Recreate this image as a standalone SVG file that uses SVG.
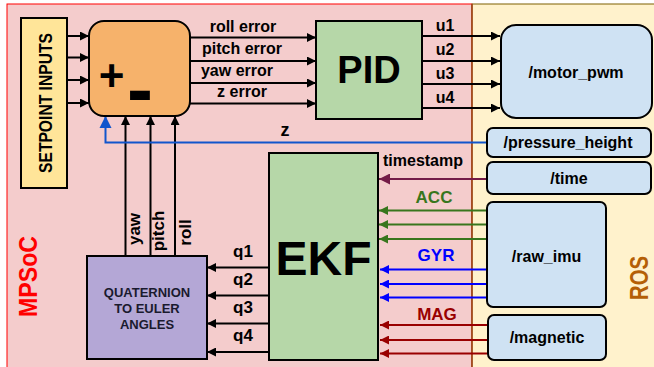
<svg xmlns="http://www.w3.org/2000/svg" width="654" height="367" viewBox="0 0 654 367">
<style>
text{font-family:"Liberation Sans",Arial,sans-serif;font-weight:bold;fill:#000}
.box{stroke:#000;stroke-width:2}
.ln{fill:none;stroke-width:2}
.k{stroke:#000}
.lbl{font-size:16px;text-anchor:middle}
.node{font-size:16px;text-anchor:middle}
</style>
<defs>
<marker id="ak" viewBox="0 0 10 10" refX="10" refY="5" markerWidth="10" markerHeight="9" markerUnits="userSpaceOnUse" orient="auto"><path d="M0,0L10,5L0,10z" fill="#000"/></marker>
<marker id="az" viewBox="0 0 10 10" refX="10" refY="5" markerWidth="12" markerHeight="13" markerUnits="userSpaceOnUse" orient="auto"><path d="M0,0L10,5L0,10z" fill="#1155cc"/></marker>
<marker id="ag" viewBox="0 0 10 10" refX="10" refY="5" markerWidth="11" markerHeight="9" markerUnits="userSpaceOnUse" orient="auto"><path d="M0,0L10,5L0,10z" fill="#38761d"/></marker>
<marker id="ab" viewBox="0 0 10 10" refX="10" refY="5" markerWidth="11" markerHeight="9" markerUnits="userSpaceOnUse" orient="auto"><path d="M0,0L10,5L0,10z" fill="#0000ff"/></marker>
<marker id="ar" viewBox="0 0 10 10" refX="10" refY="5" markerWidth="11" markerHeight="9" markerUnits="userSpaceOnUse" orient="auto"><path d="M0,0L10,5L0,10z" fill="#990000"/></marker>
<marker id="ap" viewBox="0 0 10 10" refX="10" refY="5" markerWidth="13" markerHeight="11" markerUnits="userSpaceOnUse" orient="auto"><path d="M0,0L10,5L0,10z" fill="#741b47"/></marker>
</defs>
<rect width="654" height="367" fill="#fff"/>
<g id="region-mpsoc">
<rect x="7" y="4" width="465" height="370" fill="#f4cccc" stroke="#ff0000" stroke-width="1"/>
<text transform="translate(36.5,276.5) rotate(-90)" text-anchor="middle" font-size="25.5" textLength="81" lengthAdjust="spacingAndGlyphs" style="fill:#ff0000">MPSoC</text>
</g>
<g id="region-ros">
<rect x="472" y="4" width="190" height="370" fill="#fff2cc" stroke="#7f6000" stroke-width="1"/>
<line x1="472" y1="4" x2="472" y2="367" stroke="#a0441c" stroke-width="1.5"/>
<text transform="translate(647.5,278) rotate(-90)" text-anchor="middle" font-size="26" textLength="44" lengthAdjust="spacingAndGlyphs" style="fill:#b45f06">ROS</text>
</g>
<g id="connectors">
<g class="ln k" marker-end="url(#ak)">
<line x1="67" y1="36" x2="89" y2="36"/>
<line x1="67" y1="57.5" x2="89" y2="57.5"/>
<line x1="67" y1="80" x2="89" y2="80"/>
<line x1="67" y1="103" x2="89" y2="103"/>
<line x1="190" y1="37.5" x2="316" y2="37.5"/>
<line x1="190" y1="61" x2="316" y2="61"/>
<line x1="190" y1="83" x2="316" y2="83"/>
<line x1="190" y1="103.5" x2="316" y2="103.5"/>
<line x1="422" y1="36" x2="500" y2="36"/>
<line x1="422" y1="61" x2="500" y2="61"/>
<line x1="422" y1="84" x2="500" y2="84"/>
<line x1="422" y1="108" x2="500" y2="108"/>
<line x1="125.5" y1="256" x2="125.5" y2="116"/>
<line x1="150.5" y1="256" x2="150.5" y2="116"/>
<line x1="175" y1="256" x2="175" y2="116"/>
<line x1="269" y1="267.5" x2="207" y2="267.5"/>
<line x1="269" y1="295.5" x2="207" y2="295.5"/>
<line x1="269" y1="323.5" x2="207" y2="323.5"/>
<line x1="269" y1="352" x2="207" y2="352"/>
</g>
<path class="ln" d="M487,142.5H105.5V116" stroke="#1155cc" stroke-width="3" marker-end="url(#az)"/>
<line class="ln" x1="487" y1="179" x2="379" y2="179" stroke="#741b47" stroke-width="3" marker-end="url(#ap)"/>
<g class="ln" stroke="#38761d" marker-end="url(#ag)">
<line x1="487" y1="210.5" x2="379" y2="210.5"/>
<line x1="487" y1="224.5" x2="379" y2="224.5"/>
<line x1="487" y1="239" x2="379" y2="239"/>
</g>
<g class="ln" stroke="#0000ff" marker-end="url(#ab)">
<line x1="487" y1="269.5" x2="380" y2="269.5"/>
<line x1="487" y1="284" x2="380" y2="284"/>
<line x1="487" y1="297.5" x2="380" y2="297.5"/>
</g>
<g class="ln" stroke="#990000" marker-end="url(#ar)">
<line x1="487" y1="325" x2="380" y2="325"/>
<line x1="487" y1="340" x2="380" y2="340"/>
<line x1="487" y1="353.5" x2="380" y2="353.5"/>
</g>
<text class="lbl" x="243" y="32">roll error</text>
<text class="lbl" x="242" y="54">pitch error</text>
<text class="lbl" x="237" y="76">yaw error</text>
<text class="lbl" x="242" y="97">z error</text>
<text class="lbl" x="445" y="31" font-size="17">u1</text>
<text class="lbl" x="445" y="55" font-size="17">u2</text>
<text class="lbl" x="445" y="79" font-size="17">u3</text>
<text class="lbl" x="445" y="103" font-size="17">u4</text>
<text class="lbl" x="285" y="136" style="font-size:18px">z</text>
<text class="lbl" x="243" y="257" style="font-size:17px">q1</text>
<text class="lbl" x="243" y="285" style="font-size:17px">q2</text>
<text class="lbl" x="243" y="313" style="font-size:17px">q3</text>
<text class="lbl" x="243" y="341" style="font-size:17px">q4</text>
<text class="lbl" transform="translate(140,229) rotate(-90)" style="font-size:17px">yaw</text>
<text class="lbl" transform="translate(164,231) rotate(-90)" style="font-size:17px">pitch</text>
<text class="lbl" transform="translate(191,232.5) rotate(-90)" style="font-size:17px">roll</text>
<text class="lbl" x="423" y="166">timestamp</text>
<text class="lbl" x="434" y="203" style="font-size:17px;fill:#38761d">ACC</text>
<text class="lbl" x="436" y="261" style="font-size:17px;fill:#0000ff">GYR</text>
<text class="lbl" x="437" y="320" style="font-size:17px;fill:#990000">MAG</text>
</g>
<g id="setpoint">
<rect class="box" x="21" y="18" width="46" height="170" fill="#ffe599"/>
<text transform="translate(51.5,103) rotate(-90)" text-anchor="middle" font-size="18.5" textLength="140" lengthAdjust="spacingAndGlyphs">SETPOINT INPUTS</text>
</g>
<g id="summer">
<rect class="box" x="89" y="21" width="101" height="95" rx="15" fill="#f6b26b"/>
<text x="111.5" y="91" text-anchor="middle" font-size="44">+</text>
<text x="140" y="116" text-anchor="middle" font-size="78">-</text>
</g>
<g id="pid">
<rect class="box" x="316" y="21" width="106" height="98" fill="#b6d7a8"/>
<text x="369" y="83" text-anchor="middle" font-size="38">PID</text>
</g>
<g id="ekf">
<rect class="box" x="269" y="153" width="109" height="207" fill="#b6d7a8"/>
<text x="323.5" y="275" text-anchor="middle" font-size="48">EKF</text>
</g>
<g id="quat2euler">
<rect class="box" x="87" y="256" width="120" height="103" fill="#b4a7d6"/>
<text x="147" y="297" text-anchor="middle" font-size="13" style="fill:#1a1a2e">QUATERNION</text>
<text x="147" y="313" text-anchor="middle" font-size="13" style="fill:#1a1a2e">TO EULER</text>
<text x="147" y="329" text-anchor="middle" font-size="13" style="fill:#1a1a2e">ANGLES</text>
</g>
<g id="motor_pwm">
<rect class="box" x="501" y="25" width="151" height="93" rx="15" fill="#cfe2f3"/>
<text class="node" x="576" y="78">/motor_pwm</text>
</g>
<g id="pressure_height">
<rect class="box" x="487" y="128" width="164" height="29" rx="6" fill="#cfe2f3"/>
<text class="node" x="568" y="148">/pressure_height</text>
</g>
<g id="time">
<rect class="box" x="487" y="162" width="164" height="32" rx="6" fill="#cfe2f3"/>
<text class="node" x="569" y="184">/time</text>
</g>
<g id="raw_imu">
<rect class="box" x="487" y="202" width="119" height="105" rx="6" fill="#cfe2f3"/>
<text class="node" x="546.5" y="262">/raw_imu</text>
</g>
<g id="magnetic">
<rect class="box" x="488" y="315" width="118" height="45" rx="6" fill="#cfe2f3"/>
<text class="node" x="547" y="343">/magnetic</text>
</g>
</svg>
